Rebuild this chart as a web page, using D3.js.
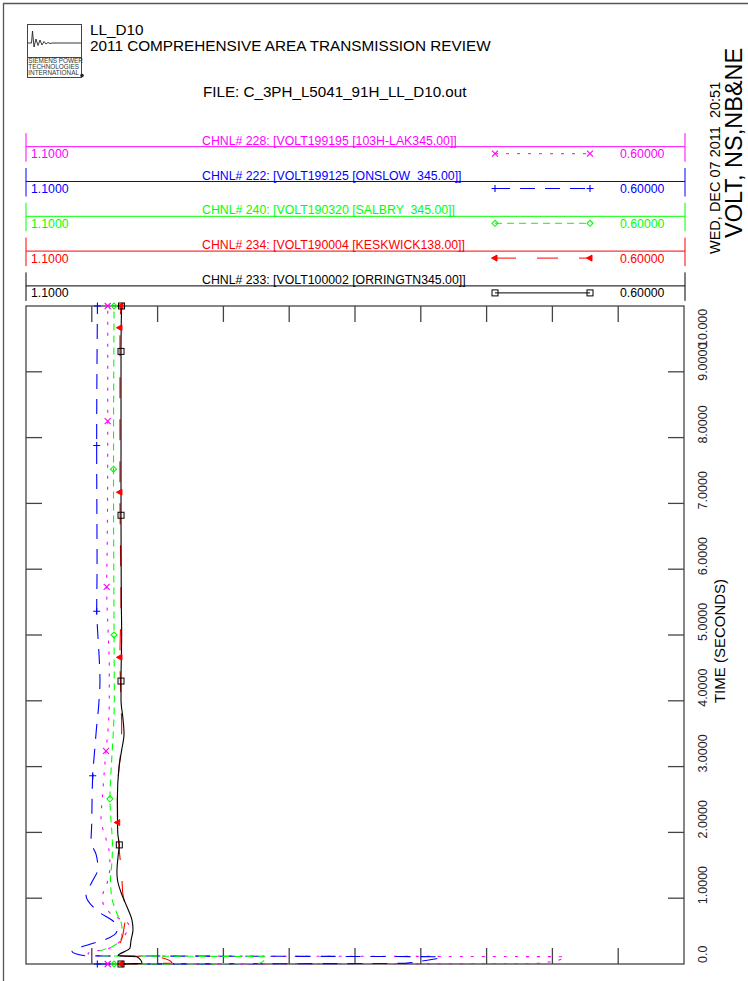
<!DOCTYPE html>
<html><head><meta charset="utf-8">
<script src="https://cdn.jsdelivr.net/npm/d3@7"></script>
<style>
body{margin:0;background:#fff}
svg{display:block}
text{font-family:"Liberation Sans",Arial,Helvetica,sans-serif;white-space:pre}
</style>
</head><body>
<svg id="chart" width="748" height="981"></svg>
<script>
// ---------------- DATA ----------------
const titleLines = ["LL_D10", "2011 COMPREHENSIVE AREA TRANSMISSION REVIEW"];
const fileLabel = "FILE: C_3PH_L5041_91H_LL_D10.out";
const dateLabel = "WED, DEC 07 2011  20:51";
const plotTitle = "VOLT, NS,NB&NE";
const timeAxisTitle = "TIME (SECONDS)";
const logoLines = ["SIEMENS POWER", "TECHNOLOGIES", "INTERNATIONAL"];

const channelLabels = [
  "CHNL# 228: [VOLT199195 [103H-LAK345.00]]",
  "CHNL# 222: [VOLT199125 [ONSLOW  345.00]]",
  "CHNL# 240: [VOLT190320 [SALBRY  345.00]]",
  "CHNL# 234: [VOLT190004 [KESKWICK138.00]]",
  "CHNL# 233: [VOLT100002 [ORRINGTN345.00]]"
];
const voltMin = 0.6, voltMax = 1.1;
const voltMaxLabel = "1.1000", voltMinLabel = "0.60000";
const timeTicks = [0,1,2,3,4,5,6,7,8,9,10];
const timeTickLabels = ["0.0","1.0000","2.0000","3.0000","4.0000","5.0000","6.0000","7.0000","8.0000","9.0000","10.000"];
const voltTicks = [1.05,1.0,0.95,0.9,0.85,0.8,0.75,0.7,0.65];

// CHNL 228 (103H-LAK)
const magT = [0,0.01,0.11,0.125,0.16,0.24,0.42,0.6,0.75,1.0,1.25,1.48,1.7,1.9,2.2,2.6,3.24,3.6,4.0,4.5,5.0,5.73,6.5,8.25,10];
const magV = [1.0379,0.7094,0.6904,1.0476,1.0529,1.0369,1.0255,1.0221,1.0347,1.0422,1.0381,1.0362,1.0367,1.0392,1.0430,1.0417,1.0392,1.0375,1.0367,1.0367,1.0375,1.0387,1.0382,1.0379,1.0379];
const magMarks = [0,3.24,5.73,8.25,10];
// CHNL 222 (ONSLOW)
const bluT = [0,0.01,0.04,0.11,0.125,0.19,0.3,0.37,0.5,0.62,0.8,1.05,1.25,1.45,1.67,1.86,2.1,2.5,2.86,3.3,3.5,4.0,4.3,4.7,5.1,5.36,6.0,7.88,10];
const bluV = [1.0458,0.8120,0.8006,0.7847,1.0552,1.0650,1.0514,1.0400,1.0309,1.0324,1.0453,1.0544,1.0498,1.0453,1.0468,1.0506,1.0501,1.0498,1.0493,1.0476,1.0468,1.0445,1.0438,1.0445,1.0457,1.0463,1.0460,1.0463,1.0457];
const bluMarks = [0,2.86,5.36,7.88,10];
// CHNL 240 (SALBRY)
const grnT = [0,0.01,0.11,0.125,0.19,0.26,0.41,0.57,0.78,1.0,1.3,1.55,1.8,2.24,2.51,3.1,3.5,4.0,5.0,7.52,10];
const grnV = [1.0331,0.9222,0.9176,1.0422,1.0438,1.0349,1.0273,1.0271,1.0312,1.0347,1.0358,1.0347,1.0343,1.0356,1.0362,1.0349,1.0337,1.0329,1.0331,1.0335,1.0331];
const grnMarks = [0,2.51,5.0,7.52,10];
// CHNL 234 (KESKWICK)
const redT = [0,0.015,0.11,0.125,0.2,0.27,0.37,0.55,0.82,1.05,1.4,1.7,2.15,2.5,2.9,3.1,3.6,4.0,4.66,5.5,7.17,9.67,10];
const redV = [1.0278,0.9891,0.9997,1.0271,1.0347,1.0301,1.0274,1.0255,1.0240,1.0263,1.0274,1.0290,1.0303,1.0305,1.0297,1.0286,1.0273,1.0278,1.0286,1.0278,1.0286,1.0286,1.0278];
const redMarks = [0,2.15,4.66,7.17,9.67,10];
// CHNL 233 (ORRINGTN)
const blkT = [0,0.01,0.11,0.125,0.24,0.36,0.52,0.67,0.87,1.05,1.28,1.40,1.66,1.81,1.99,2.49,3.0,3.25,3.5,3.76,4.01,4.3,5.03,5.53,6.82,8.0,9.31,10];
const blkV = [1.0278,1.0119,1.0157,1.0301,1.0210,1.0202,1.0187,1.0195,1.0233,1.0271,1.0305,1.0309,1.0299,1.0291,1.0303,1.0306,1.0293,1.0273,1.0255,1.0265,1.0278,1.0278,1.0273,1.0276,1.0278,1.0278,1.0278,1.0274];
const blkMarks = [0,1.81,4.30,6.82,9.31,10];

const seriesT = [magT, bluT, grnT, redT, blkT];
const seriesV = [magV, bluV, grnV, redV, blkV];
const seriesMarks = [magMarks, bluMarks, grnMarks, redMarks, blkMarks];

// ---------------- STYLES ----------------
const styles = [
  {color:"#ff00ff", dash:"3,8", marker:"x"},
  {color:"#0000ff", dash:"15,10", marker:"plus"},
  {color:"#00ff00", dash:"7,5", marker:"diamond"},
  {color:"#ff0000", dash:"21,21", marker:"tri"},
  {color:"#000000", dash:null, marker:"square"}
];

// ---------------- LAYOUT ----------------
const svg = d3.select("#chart");
const P = {left:26, right:684, top:306, bottom:964};
const x = d3.scaleLinear().domain([voltMax, voltMin]).range([P.left, P.right]);
const y = d3.scaleLinear().domain([0, 10]).range([P.bottom, P.top]);

// page border
svg.append("path").attr("d","M3.5,981 V3.5 H748").attr("fill","none").attr("stroke","#555").attr("stroke-width",1.3);

// logo
const logo = svg.append("g");
logo.append("rect").attr("x",27.5).attr("y",24.5).attr("width",54).attr("height",53).attr("fill","none").attr("stroke","#444").attr("stroke-width",1);
logo.append("line").attr("x1",27.5).attr("x2",81.5).attr("y1",57.5).attr("y2",57.5).attr("stroke","#444");
logo.append("path").attr("d","M28,43 L31.5,43 L32.5,31 L34,47 L36,39 L38,45.5 L40,40 L42,45 L44,41.5 L46,44 L48,42.5 L50,43.5 L52,43 L81,43")
  .attr("fill","none").attr("stroke","#222").attr("stroke-width",0.9);
logoLines.forEach((s,i)=>{
  logo.append("text").attr("x",28.3).attr("y",63.3+i*5.9).attr("font-size",6.4).attr("fill","#333").text(s);
});
logo.append("circle").attr("cx",82).attr("cy",75.5).attr("r",1.8).attr("fill","#222");

// titles
svg.append("text").attr("x",90).attr("y",35).attr("font-size",15.3).text(titleLines[0]);
svg.append("text").attr("x",90).attr("y",50.5).attr("font-size",15.3).text(titleLines[1]);
svg.append("text").attr("x",203).attr("y",97).attr("font-size",15.2).text(fileLabel);

svg.append("text").attr("transform","translate(720,254) rotate(-90)").attr("font-size",14.5).text(dateLabel);
svg.append("text").attr("transform","translate(742,238) rotate(-90)").attr("font-size",23.5).text(plotTitle);
svg.append("text").attr("transform","translate(725,641) rotate(-90)").attr("font-size",15).attr("text-anchor","middle").text(timeAxisTitle);

// markers
function drawMarker(g, kind, cx, cy, color){
  if(kind==="x"){
    g.append("path").attr("d",`M${cx-3},${cy-3}L${cx+3},${cy+3}M${cx-3},${cy+3}L${cx+3},${cy-3}`).attr("stroke",color).attr("stroke-width",1.1).attr("fill","none");
  } else if(kind==="plus"){
    g.append("path").attr("d",`M${cx-3.5},${cy}L${cx+3.5},${cy}M${cx},${cy-3.5}L${cx},${cy+3.5}`).attr("stroke",color).attr("stroke-width",1.1).attr("fill","none");
  } else if(kind==="diamond"){
    g.append("path").attr("d",`M${cx-3},${cy}L${cx},${cy-3}L${cx+3},${cy}L${cx},${cy+3}Z`).attr("stroke",color).attr("stroke-width",1.1).attr("fill","none");
  } else if(kind==="tri"){
    g.append("path").attr("d",`M${cx-3.5},${cy}L${cx+2},${cy-3}L${cx+2},${cy+3}Z`).attr("stroke",color).attr("fill",color);
  } else if(kind==="square"){
    g.append("rect").attr("x",cx-3).attr("y",cy-3).attr("width",6).attr("height",6).attr("stroke",color).attr("stroke-width",1).attr("fill","none");
  }
}

// legend blocks
channelLabels.forEach((lab,i)=>{
  const st = styles[i];
  const y0 = 146.7 + i*34.8;
  const g = svg.append("g");
  g.append("line").attr("x1",P.left).attr("x2",P.left).attr("y1",y0-13.5).attr("y2",y0+15).attr("stroke",st.color);
  g.append("line").attr("x1",685).attr("x2",685).attr("y1",y0-13.5).attr("y2",y0+15).attr("stroke",st.color);
  g.append("line").attr("x1",P.left).attr("x2",685).attr("y1",y0).attr("y2",y0).attr("stroke",st.color);
  g.append("text").attr("x",202).attr("y",y0-2).attr("font-size",12.3).attr("fill",st.color).text(lab);
  g.append("text").attr("x",31).attr("y",y0+11.5).attr("font-size",12.3).attr("fill",st.color).text(voltMaxLabel);
  g.append("text").attr("x",620).attr("y",y0+11.5).attr("font-size",12.3).attr("fill",st.color).text(voltMinLabel);
  const ly = y0+7;
  const sl = g.append("line").attr("x1",495).attr("x2",590).attr("y1",ly).attr("y2",ly).attr("stroke",st.color).attr("stroke-width",1);
  if(st.dash) sl.attr("stroke-dasharray",st.dash);
  drawMarker(g, st.marker, 495, ly, st.color);
  drawMarker(g, st.marker, 590, ly, st.color);
});

// plot frame & ticks
const axisCol = "#444";
svg.append("rect").attr("x",P.left).attr("y",P.top).attr("width",P.right-P.left).attr("height",P.bottom-P.top)
  .attr("fill","none").attr("stroke",axisCol).attr("stroke-width",1.3);
const tickLen = 16;
voltTicks.forEach(v=>{
  const xx = x(v);
  svg.append("line").attr("x1",xx).attr("x2",xx).attr("y1",P.top).attr("y2",P.top+tickLen).attr("stroke",axisCol).attr("stroke-width",1.3);
  svg.append("line").attr("x1",xx).attr("x2",xx).attr("y1",P.bottom).attr("y2",P.bottom-tickLen).attr("stroke",axisCol).attr("stroke-width",1.3);
});
timeTicks.forEach((t,i)=>{
  const yy = y(t);
  if(t>0 && t<10){
    svg.append("line").attr("x1",P.left).attr("x2",P.left+tickLen).attr("y1",yy).attr("y2",yy).attr("stroke",axisCol).attr("stroke-width",1.3);
    svg.append("line").attr("x1",P.right).attr("x2",P.right-tickLen).attr("y1",yy).attr("y2",yy).attr("stroke",axisCol).attr("stroke-width",1.3);
  }
  let off = 6;
  if(i===0) off = -1;
  if(i===9) off = 9;
  if(i===10) off = 41;
  svg.append("text").attr("transform",`translate(707,${yy+off}) rotate(-90)`).attr("font-size",12.5).attr("fill","#222").text(timeTickLabels[i]);
});

// curves
svg.append("clipPath").attr("id","clip").append("rect").attr("x",P.left).attr("y",P.top-4).attr("width",P.right-P.left).attr("height",P.bottom-P.top+8);
const plotG = svg.append("g").attr("clip-path","url(#clip)");
const line = d3.line().x(d=>x(d.v)).y(d=>y(d.t)).curve(d3.curveMonotoneY);
[0,1,2,3,4].forEach(i=>{
  const st = styles[i];
  const pts = seriesT[i].map((t,k)=>({t:t, v:seriesV[i][k]}));
  const p = plotG.append("path").datum(pts).attr("d",line).attr("fill","none").attr("stroke",st.color).attr("stroke-width",1.1);
  if(st.dash) p.attr("stroke-dasharray",st.dash);
});
// markers along curves
[0,1,2,3,4].forEach(i=>{
  const st = styles[i];
  const interp = d3.scaleLinear().domain(seriesT[i]).range(seriesV[i]);
  seriesMarks[i].forEach(t=>{
    drawMarker(svg, st.marker, x(interp(t)), y(t), st.color);
  });
});
</script>
</body></html>
